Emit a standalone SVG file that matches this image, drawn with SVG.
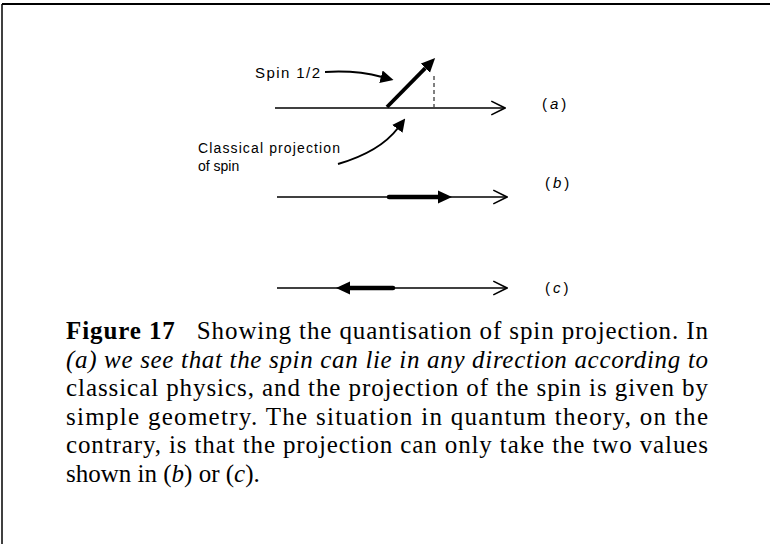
<svg xmlns="http://www.w3.org/2000/svg" width="770" height="544" viewBox="0 0 770 544">
<style>
.lbl{font-family:"Liberation Sans","DejaVu Sans",sans-serif;font-size:15px;fill:#000}
.sm{font-size:14px}
.cap{font-family:"Liberation Serif","DejaVu Serif",serif;font-size:25px;fill:#000}
.axis{stroke:#000;stroke-width:1.4;fill:none}
.thick{stroke:#000;fill:none;stroke-linecap:round}
</style>
<defs>
<marker id="open" markerUnits="userSpaceOnUse" markerWidth="16" markerHeight="16" viewBox="0 0 14 14" refX="13" refY="7" orient="auto">
<path d="M1,1 L13,7 L1,13" fill="none" stroke="#000" stroke-width="1.4"/>
</marker>
<marker id="head" markerUnits="userSpaceOnUse" markerWidth="14" markerHeight="14" viewBox="0 0 14 14" refX="0" refY="7" orient="auto">
<path d="M0,0.5 L14,7 L0,13.5 z" fill="#000"/>
</marker>
<marker id="headS" markerUnits="userSpaceOnUse" markerWidth="13" markerHeight="13" viewBox="0 0 12 12" refX="1" refY="6" orient="auto">
<path d="M0,0 L12,6 L0,12 z" fill="#000"/>
</marker>
</defs>
<rect width="770" height="544" fill="#fff"/>
<g id="frame">
<line x1="2" y1="4" x2="770" y2="4" stroke="#000" stroke-width="2.2"/>
<line x1="2" y1="4" x2="2" y2="544" stroke="#000" stroke-width="1.5"/>
</g>
<g id="connectors">
<line class="axis" x1="275" y1="108" x2="505" y2="108" marker-end="url(#open)"/>
<line class="axis" x1="277" y1="197" x2="507" y2="197" marker-end="url(#open)"/>
<line class="axis" x1="277" y1="288" x2="507" y2="288" marker-end="url(#open)"/>
<line class="thick" x1="387" y1="107" x2="425.3" y2="68.1" stroke-width="3.8" marker-end="url(#head)" style="stroke-linecap:butt"/>
<line x1="434" y1="76" x2="434" y2="107" stroke="#000" stroke-width="1" stroke-dasharray="4,3"/>
<line class="thick" x1="389" y1="197" x2="438" y2="197" stroke-width="4.5" marker-end="url(#head)"/>
<line class="thick" x1="393" y1="288" x2="350" y2="288" stroke-width="4.5" marker-end="url(#head)"/>
<path d="M325,72 Q356,70 382,77" fill="none" stroke="#000" stroke-width="2" marker-end="url(#headS)"/>
<path d="M338,164 C362,157 385,145 398,128" fill="none" stroke="#000" stroke-width="2" marker-end="url(#headS)"/>
</g>
<g id="label-spin"><text class="lbl" x="255" y="78" textLength="65" lengthAdjust="spacing">Spin 1/2</text></g>
<g id="label-classical">
<text class="lbl sm" x="198" y="153" textLength="142" lengthAdjust="spacing">Classical projection</text>
<text class="lbl sm" x="198" y="171">of spin</text>
</g>
<g id="label-a"><text class="lbl" x="542" y="109" letter-spacing="3">(<tspan font-style="italic">a</tspan>)</text></g>
<g id="label-b"><text class="lbl" x="545" y="188" letter-spacing="3">(<tspan font-style="italic">b</tspan>)</text></g>
<g id="label-c"><text class="lbl" x="545" y="293" letter-spacing="3">(<tspan font-style="italic">c</tspan>)</text></g>
<g id="caption">
<text class="cap" x="66" y="339" textLength="642" lengthAdjust="spacing"><tspan font-weight="bold">Figure 17</tspan><tspan dx="14"> Showing the quantisation of spin projection. In</tspan></text>
<text class="cap" x="66" y="367.6" textLength="642" lengthAdjust="spacing" font-style="italic">(a) we see that the spin can lie in any direction according to</text>
<text class="cap" x="66" y="396.2" textLength="642" lengthAdjust="spacing">classical physics, and the projection of the spin is given by</text>
<text class="cap" x="66" y="424.8" textLength="642" lengthAdjust="spacing">simple geometry. The situation in quantum theory, on the</text>
<text class="cap" x="66" y="453.4" textLength="642" lengthAdjust="spacing">contrary, is that the projection can only take the two values</text>
<text class="cap" x="66" y="482">shown in (<tspan font-style="italic">b</tspan>) or (<tspan font-style="italic">c</tspan>).</text>
</g>
</svg>
